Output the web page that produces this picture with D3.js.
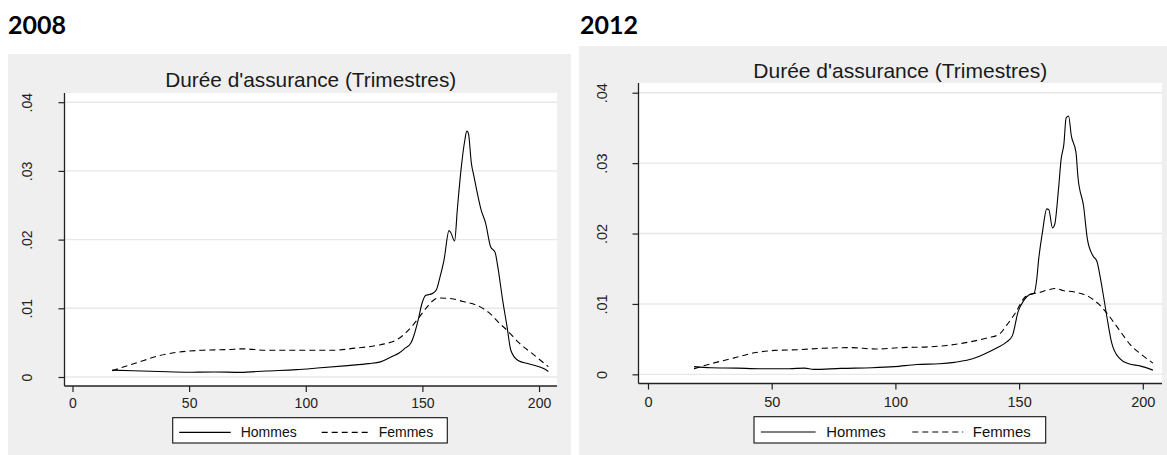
<!DOCTYPE html>
<html>
<head>
<meta charset="utf-8">
<script src="https://cdn.jsdelivr.net/npm/d3@7"></script>
<style>
  html, body { margin: 0; padding: 0; background: #ffffff; }
  svg { display: block; }
</style>
</head>
<body>
<svg id="chart" width="1167" height="455"></svg>
<script>
// Kernel density of insurance duration (quarters), men vs women
const years = ["2008", "2012"];
const chartTitle = "Durée d'assurance (Trimestres)";
const seriesNames = ["Hommes", "Femmes"];
const xTicks = [0, 50, 100, 150, 200];
const yTicks = [0, 0.01, 0.02, 0.03, 0.04];
const yTickLabels = ["0", ".01", ".02", ".03", ".04"];

// [trimestres, densité]
const hommes2008 = [
  [17,0.0010],[26,0.0009],[37,0.0008],[50,0.0007],[61,0.00073],[72,0.00068],[83,0.00088],
  [96,0.00107],[105,0.0013],[118,0.00166],[127,0.00195],[132,0.0022],[137,0.003],[140,0.0035],
  [142.6,0.0042],[145,0.0049],[146.6,0.0063],[148.2,0.0083],[149.8,0.0107],[151.5,0.0119],
  [153,0.012],[154.5,0.0122],[156,0.0127],[157.5,0.0145],[159.3,0.0171],[161.4,0.0213],
  [162.2,0.021],[163.8,0.0198],[165,0.0245],[166.5,0.030],[168.2,0.0345],[169,0.0358],
  [169.7,0.0355],[171,0.0311],[172.1,0.0292],[175.2,0.0243],[177.1,0.0224],[179.2,0.019],
  [181.2,0.0181],[182.3,0.0161],[184.4,0.0112],[186.3,0.0073],[187.9,0.0039],[191,0.0024],
  [195.8,0.0019],[202.2,0.0012],[204,0.0008]
];
const femmes2008 = [
  [17,0.0009],[24,0.0017],[30.5,0.0024],[37,0.0031],[45,0.0036],[56,0.0039],[67,0.0040],
  [73,0.0041],[83,0.0039],[96,0.0039],[112,0.0039],[121,0.0042],[132,0.0047],[139.4,0.0055],
  [143.4,0.0066],[148.2,0.0085],[151.3,0.0099],[154.5,0.0111],[157,0.0115],[162.5,0.0114],
  [167.3,0.0110],[172.8,0.0105],[178.4,0.0094],[183.1,0.0078],[186.3,0.0068],[191,0.0051],
  [197.5,0.0033],[204,0.0015]
];
const hommes2012 = [
  [18.6,0.0011],[25.4,0.00094],[36,0.00089],[45,0.0008],[57,0.0008],[63.3,0.00089],[67,0.0007],
  [78,0.00085],[90.5,0.00094],[99.6,0.0011],[108.7,0.0014],[117.8,0.0015],[123.8,0.0017],
  [130,0.0021],[136,0.0029],[141.3,0.0038],[145,0.0046],[147.3,0.0055],[149.6,0.0089],
  [151.9,0.0105],[154.1,0.0113],[156,0.0115],[157.1,0.0134],[157.9,0.0163],[159.4,0.0201],
  [161.2,0.0235],[162,0.0234],[163.5,0.0208],[164.4,0.0213],[165.9,0.0262],[167,0.0306],
  [168.1,0.0327],[169,0.0364],[170,0.0367],[171.1,0.0339],[173,0.0315],[173.8,0.028],
  [176.1,0.0238],[177.6,0.0192],[179.9,0.0168],[181.4,0.0161],[182.9,0.0136],[184.3,0.0107],
  [185.9,0.0073],[187.4,0.0045],[190.5,0.0023],[194.3,0.0015],[198.8,0.0012],[204.1,0.0006]
];
const femmes2012 = [
  [18.6,0.0008],[25.4,0.0015],[34.5,0.0023],[43.6,0.0031],[51.2,0.0034],[60.3,0.0035],
  [70.9,0.0037],[81.5,0.0038],[92.1,0.0036],[102.6,0.0038],[113.2,0.0039],[120.8,0.0041],
  [129.9,0.0046],[137.5,0.0052],[142,0.0057],[145,0.007],[148.8,0.0089],[151.9,0.0108],
  [154.9,0.0114],[157.9,0.0116],[161.7,0.012],[164.7,0.0122],[167.7,0.0119],[172.3,0.0117],
  [178.3,0.011],[182.1,0.01],[185.9,0.0085],[190.5,0.0063],[195,0.0042],[199.5,0.0028],
  [204.1,0.0016]
];

const panelData = [
  { year: years[0], hommes: hommes2008, femmes: femmes2008 },
  { year: years[1], hommes: hommes2012, femmes: femmes2012 }
];

// Layout of each panel (pixels)
const layout = [
  { headX: 8,   headY: 34, bg: [8, 54, 563, 401],   plot: { l: 64.5, t: 93, r: 557, b: 386 },
    xd: [-3.43, 207.7], yd: [-0.00131, 0.04134], titleY: 87, font: 14, titleFont: 20.8,
    yLabX: 31.5, xLabY: 408, legend: { l: 172.7, t: 417.7, w: 274.6, h: 25.3 } },
  { headX: 580, headY: 34, bg: [579, 46, 588, 409], plot: { l: 638.5, t: 83, r: 1162, b: 383.5 },
    xd: [-3.84, 207.76], yd: [-0.0013, 0.04138], titleY: 77.5, font: 14.5, titleFont: 21,
    yLabX: 606.5, xLabY: 407, legend: { l: 754, t: 416.7, w: 291.7, h: 26.3 } }
];

const svg = d3.select("#chart");
const textFont = "'Liberation Sans', Arial, sans-serif";

panelData.forEach((p, i) => {
  const L = layout[i];
  const g = svg.append("g");

  // Year heading
  g.append("text")
    .attr("x", L.headX).attr("y", L.headY)
    .attr("font-family", "Lato, 'Open Sans', sans-serif")
    .attr("font-weight", "bold").attr("font-size", 25)
    .attr("fill", "#000").text(p.year);

  // Graph region
  g.append("rect")
    .attr("x", L.bg[0]).attr("y", L.bg[1]).attr("width", L.bg[2]).attr("height", L.bg[3])
    .attr("fill", "#efefef");
  g.append("rect")
    .attr("x", L.plot.l).attr("y", L.plot.t)
    .attr("width", L.plot.r - L.plot.l).attr("height", L.plot.b - L.plot.t)
    .attr("fill", "#ffffff");

  const x = d3.scaleLinear().domain(L.xd).range([L.plot.l, L.plot.r]);
  const y = d3.scaleLinear().domain(L.yd).range([L.plot.b, L.plot.t]);

  // Horizontal grid
  g.append("g").selectAll("line").data(yTicks).join("line")
    .attr("x1", L.plot.l).attr("x2", L.plot.r)
    .attr("y1", d => y(d)).attr("y2", d => y(d))
    .attr("stroke", "#e8e8e8").attr("stroke-width", 1.4);

  // Title
  g.append("text")
    .attr("x", (L.plot.l + L.plot.r) / 2).attr("y", L.titleY)
    .attr("text-anchor", "middle")
    .attr("font-family", textFont).attr("font-size", L.titleFont)
    .attr("fill", "#1a1a1a").text(chartTitle);

  // Y axis
  const yAxis = d3.axisLeft(y).tickValues(yTicks).tickSize(6)
    .tickFormat((d, k) => yTickLabels[k]);
  const ya = g.append("g").attr("transform", `translate(${L.plot.l},0)`).call(yAxis);
  ya.select(".domain").attr("d", `M0,${L.plot.b}V${L.plot.t}`)
    .attr("stroke", "#222").attr("stroke-width", 1.3);
  ya.selectAll(".tick line").attr("stroke", "#222").attr("stroke-width", 1.2);
  ya.selectAll(".tick text")
    .attr("font-family", textFont).attr("font-size", L.font).attr("fill", "#222")
    .attr("text-anchor", "middle")
    .attr("x", null).attr("dy", null)
    .attr("transform", `translate(${L.yLabX - L.plot.l},0) rotate(-90)`)
    .attr("y", 0);

  // X axis
  const xAxis = d3.axisBottom(x).tickValues(xTicks).tickSize(6).tickFormat(d3.format("d"));
  const xa = g.append("g").attr("transform", `translate(0,${L.plot.b})`).call(xAxis);
  xa.select(".domain").attr("d", `M${L.plot.l},0H${L.plot.r}`)
    .attr("stroke", "#222").attr("stroke-width", 1.3);
  xa.selectAll(".tick line").attr("stroke", "#222").attr("stroke-width", 1.2);
  xa.selectAll(".tick text")
    .attr("font-family", textFont).attr("font-size", L.font).attr("fill", "#222")
    .attr("dy", null).attr("y", L.xLabY - L.plot.b);

  // Density curves
  const line = d3.line().x(d => x(d[0])).y(d => y(d[1])).curve(d3.curveMonotoneX);
  g.append("path").datum(p.femmes).attr("d", line)
    .attr("fill", "none").attr("stroke", "#000").attr("stroke-width", 1.1)
    .attr("stroke-dasharray", "6,4");
  g.append("path").datum(p.hommes).attr("d", line)
    .attr("fill", "none").attr("stroke", "#000").attr("stroke-width", 1.1);

  // Legend
  const lg = L.legend;
  const leg = g.append("g").attr("transform", `translate(${lg.l},${lg.t})`);
  leg.append("rect").attr("width", lg.w).attr("height", lg.h)
    .attr("fill", "#fff").attr("stroke", "#111").attr("stroke-width", 1.1);
  const sc = lg.w / 274.6;
  const ly = lg.h * 0.58;
  leg.append("line").attr("x1", 6.5 * sc).attr("x2", 58 * sc).attr("y1", ly).attr("y2", ly)
    .attr("stroke", "#000").attr("stroke-width", 1.1);
  leg.append("text").attr("x", 68 * sc).attr("y", ly + 5)
    .attr("font-family", textFont).attr("font-size", 14 * sc).attr("fill", "#111")
    .text(seriesNames[0]);
  leg.append("line").attr("x1", 149 * sc).attr("x2", 197 * sc).attr("y1", ly).attr("y2", ly)
    .attr("stroke", "#000").attr("stroke-width", 1.1).attr("stroke-dasharray", "6,4");
  leg.append("text").attr("x", 206 * sc).attr("y", ly + 5)
    .attr("font-family", textFont).attr("font-size", 14 * sc).attr("fill", "#111")
    .text(seriesNames[1]);
});
</script>
</body>
</html>
